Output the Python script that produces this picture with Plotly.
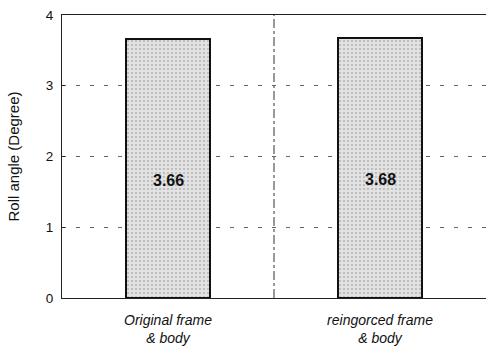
import plotly.graph_objects as go

categories = ["Original frame<br>& body", "reingorced frame<br>& body"]
positions = [0, 1]
roll_angle = [3.66, 3.68]
value_labels = ["3.66", "3.68"]
y_ticks = [0, 1, 2, 3, 4]

fig = go.Figure()
fig.add_trace(go.Bar(
    x=positions, y=roll_angle, width=0.4,
    marker=dict(color="#d9d9d9", line=dict(color="#111111", width=2),
                pattern=dict(shape=".", fgcolor="#9a9a9a", bgcolor="#e4e4e4", size=4, solidity=0.3)),
    showlegend=False, hoverinfo="skip",
))
for p, v, t in zip(positions, roll_angle, value_labels):
    fig.add_annotation(x=p, y=v * 0.455, text="<b>" + t + "</b>", showarrow=False,
                       font=dict(family="Arial, Liberation Sans", size=16, color="#111"))

fig.add_shape(type="line", xref="x", yref="paper", x0=0.5, x1=0.5, y0=0, y1=1,
              line=dict(color="#333", width=1, dash="dashdot"), layer="below")

fig.update_layout(
    width=487, height=347,
    margin=dict(l=62, r=1, t=15, b=49),
    paper_bgcolor="white", plot_bgcolor="white",
    font=dict(family="Arial, Liberation Sans", color="#111"),
    xaxis=dict(range=[-0.5, 1.5], tickvals=positions, automargin=False,
               ticktext=["<i>" + c + "</i>" for c in categories],
               showgrid=False, showline=True, linecolor="#222", linewidth=1, mirror=True,
               ticks="", tickfont=dict(size=14), ticklabelstandoff=9, zeroline=False),
    yaxis=dict(range=[0, 4], tickvals=y_ticks, showgrid=True, automargin=False,
               gridcolor="#666", griddash="4px,10px", gridwidth=1,
               showline=True, linecolor="#222", linewidth=1, mirror=False,
               ticks="inside", ticklen=3, tickcolor="#222", tickfont=dict(size=13.5),
               ticklabelstandoff=5, zeroline=False,
               title=dict(text="Roll angle (Degree)", font=dict(size=15), standoff=22)),
    bargap=0,
)
fig.write_html("out.html", post_script="document.body.style.margin='0';",
               config={"displayModeBar": False})
